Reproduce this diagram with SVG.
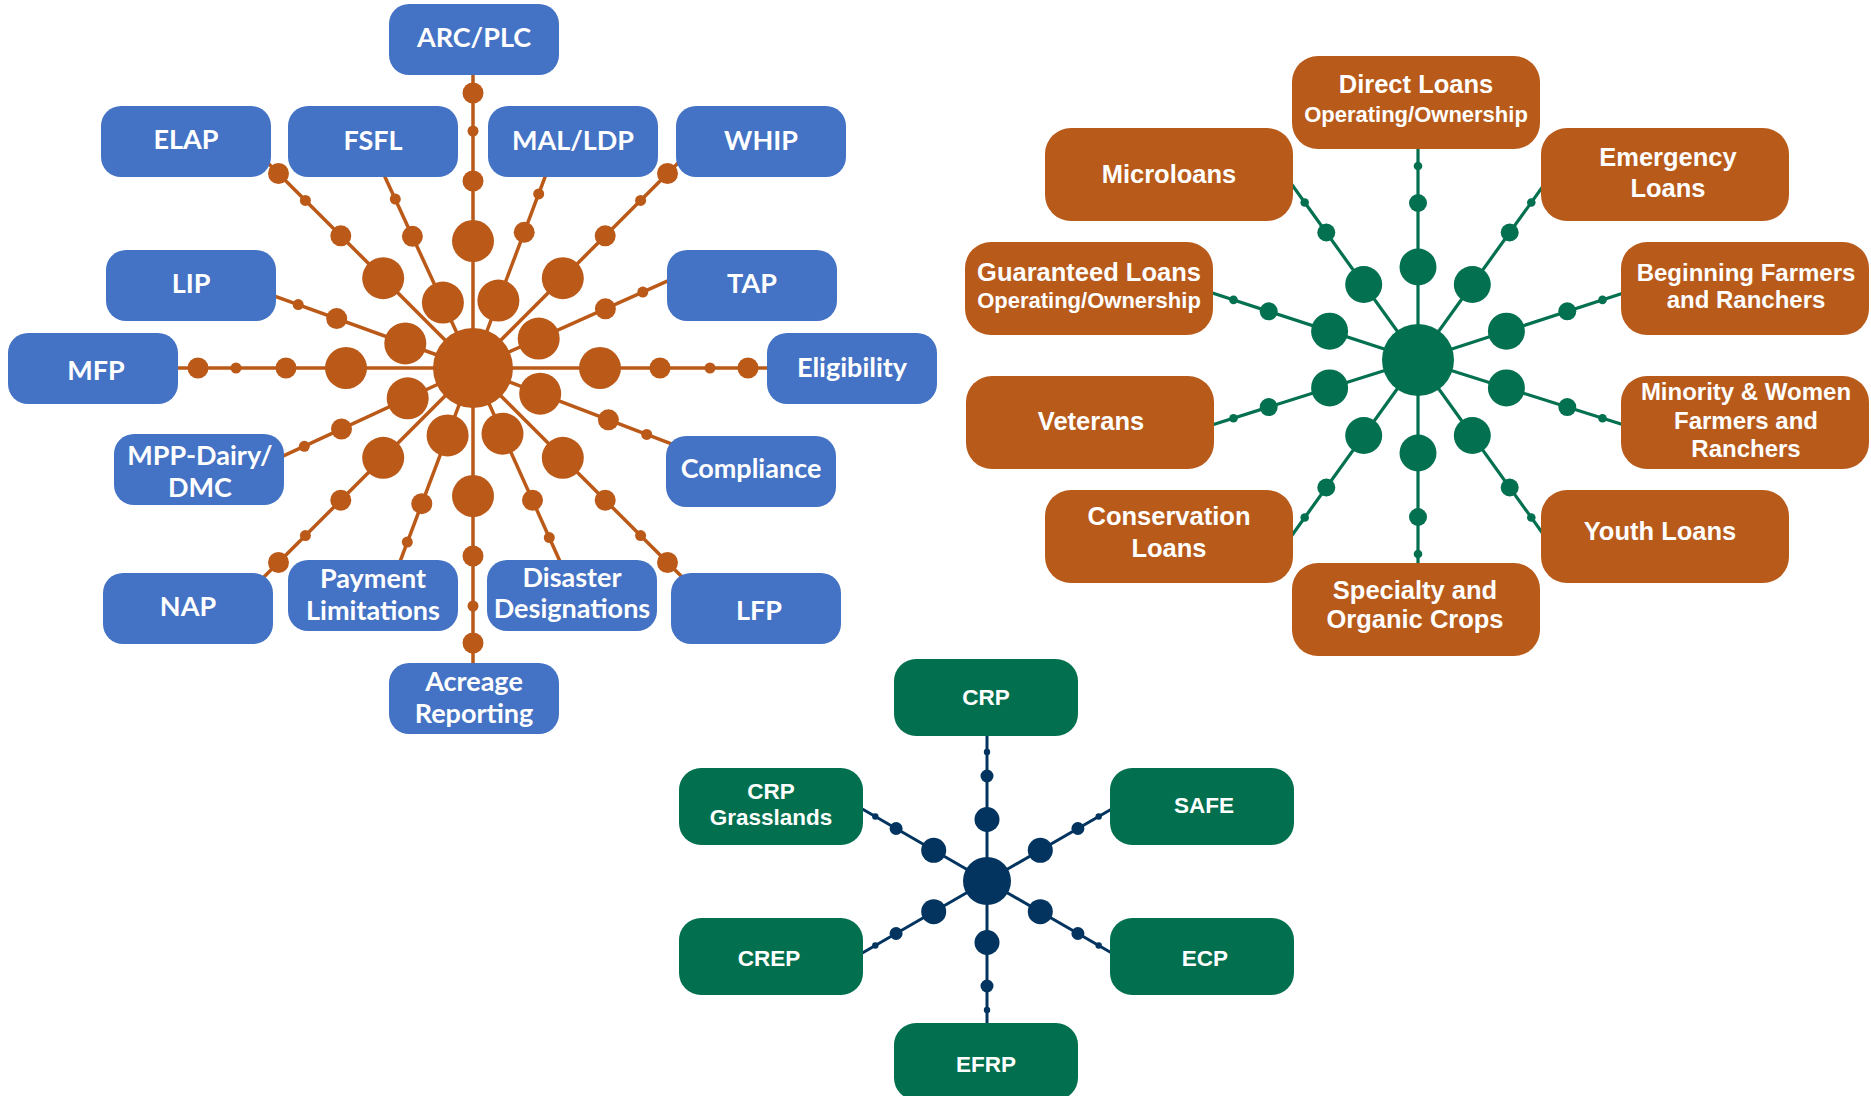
<svg xmlns="http://www.w3.org/2000/svg" width="1871" height="1096" viewBox="0 0 1871 1096">
<style>
  .bx{fill:#4472C4}
  .ob{fill:#B85A1A}
  .gb{fill:#02704F}
  .lt{font-family:Lato,"Open Sans","DejaVu Sans",sans-serif;font-weight:700;font-size:27px;fill:#fff;text-anchor:middle}
  .rt{font-family:"Liberation Sans",Arial,sans-serif;font-weight:700;font-size:25.5px;fill:#fff;text-anchor:middle}
  .rn{font-size:24px}
  .rs{font-size:22px}
  .bt{font-family:"Liberation Sans",Arial,sans-serif;font-weight:700;font-size:22.5px;fill:#fff;text-anchor:middle}
  .ol{stroke:#BA5918;stroke-width:3.5;fill:none}
  .od{fill:#BA5918}
  .gl{stroke:#037050;stroke-width:3.2;fill:none}
  .gd{fill:#037050}
  .nl{stroke:#02345F;stroke-width:3;fill:none}
  .nd{fill:#02345F}
</style>
<rect width="1871" height="1096" fill="#fff"/>

<!-- ===== Left diagram connectors ===== -->
<g id="connectors-left">
  <g class="ol">
    <line x1="473" y1="368" x2="473" y2="70"/>
    <line x1="473" y1="368" x2="473" y2="668"/>
    <line x1="473" y1="368" x2="175" y2="368"/>
    <line x1="473" y1="368" x2="772" y2="368"/>
    <line x1="473" y1="368" x2="260.9" y2="155.9"/>
    <line x1="473" y1="368" x2="685.1" y2="155.9"/>
    <line x1="473" y1="368" x2="260.9" y2="580.1"/>
    <line x1="473" y1="368" x2="685.1" y2="580.1"/>
    <line x1="473" y1="368" x2="378.9" y2="163.7"/>
    <line x1="473" y1="368" x2="552.4" y2="157.4"/>
    <line x1="473" y1="368" x2="678.4" y2="276.2"/>
    <line x1="473" y1="368" x2="683.2" y2="448.3"/>
    <line x1="473" y1="368" x2="565.3" y2="573.2"/>
    <line x1="473" y1="368" x2="393.6" y2="578.6"/>
    <line x1="473" y1="368" x2="268.9" y2="462.7"/>
    <line x1="473" y1="368" x2="261.5" y2="291.3"/>
  </g>
  <g class="od">
    <circle cx="473" cy="241" r="21"/><circle cx="473" cy="181" r="10.5"/><circle cx="473" cy="131" r="5.5"/><circle cx="473" cy="93" r="10.5"/>
    <circle cx="473" cy="496" r="21"/><circle cx="473" cy="556" r="10.5"/><circle cx="473" cy="606" r="5.5"/><circle cx="473" cy="643" r="10.5"/>
    <circle cx="346" cy="368" r="21"/><circle cx="286" cy="368" r="10.5"/><circle cx="236" cy="368" r="5.5"/><circle cx="198" cy="368" r="10.5"/>
    <circle cx="600" cy="368" r="21"/><circle cx="660" cy="368" r="10.5"/><circle cx="710" cy="368" r="5.5"/><circle cx="748" cy="368" r="10.5"/>
    <circle cx="383.2" cy="278.2" r="21"/><circle cx="340.8" cy="235.8" r="10.5"/><circle cx="305.4" cy="200.4" r="5.5"/><circle cx="278.5" cy="173.5" r="10.5"/>
    <circle cx="562.8" cy="278.2" r="21"/><circle cx="605.2" cy="235.8" r="10.5"/><circle cx="640.6" cy="200.4" r="5.5"/><circle cx="667.5" cy="173.5" r="10.5"/>
    <circle cx="383.2" cy="457.8" r="21"/><circle cx="340.8" cy="500.2" r="10.5"/><circle cx="305.4" cy="535.6" r="5.5"/><circle cx="278.5" cy="562.5" r="10.5"/>
    <circle cx="562.8" cy="457.8" r="21"/><circle cx="605.2" cy="500.2" r="10.5"/><circle cx="640.6" cy="535.6" r="5.5"/><circle cx="667.5" cy="562.5" r="10.5"/>
    <circle cx="442.9" cy="302.6" r="21"/><circle cx="412.4" cy="236.3" r="10.5"/><circle cx="395.3" cy="199.1" r="5.5"/>
    <circle cx="498.4" cy="300.6" r="21"/><circle cx="524.2" cy="232.3" r="10.5"/><circle cx="538.7" cy="193.9" r="5.5"/>
    <circle cx="538.7" cy="338.6" r="21"/><circle cx="605.4" cy="308.8" r="10.5"/><circle cx="642.8" cy="292.1" r="5.5"/>
    <circle cx="540.2" cy="393.7" r="21"/><circle cx="608.4" cy="419.8" r="10.5"/><circle cx="646.7" cy="434.4" r="5.5"/>
    <circle cx="502.5" cy="433.7" r="21"/><circle cx="532.5" cy="500.2" r="10.5"/><circle cx="549.3" cy="537.6" r="5.5"/>
    <circle cx="447.6" cy="435.4" r="21"/><circle cx="421.8" cy="503.7" r="10.5"/><circle cx="407.3" cy="542.1" r="5.5"/>
    <circle cx="407.7" cy="398.3" r="21"/><circle cx="341.5" cy="429" r="10.5"/><circle cx="304.3" cy="446.3" r="5.5"/>
    <circle cx="405.3" cy="343.4" r="21"/><circle cx="336.7" cy="318.6" r="10.5"/><circle cx="298.2" cy="304.6" r="5.5"/>
  </g>
</g>
<g id="hub-left"><circle cx="473" cy="368" r="40" class="od"/></g>

<!-- ===== Left diagram nodes ===== -->
<g id="node-arcplc"><rect class="bx" x="389" y="4" width="170" height="71" rx="20"/><text class="lt" x="474" y="47">ARC/PLC</text></g>
<g id="node-elap"><rect class="bx" x="101" y="106" width="170" height="71" rx="20"/><text class="lt" x="186" y="149">ELAP</text></g>
<g id="node-fsfl"><rect class="bx" x="288" y="106" width="170" height="71" rx="20"/><text class="lt" x="373" y="150">FSFL</text></g>
<g id="node-malldp"><rect class="bx" x="488" y="106" width="170" height="71" rx="20"/><text class="lt" x="573" y="150">MAL/LDP</text></g>
<g id="node-whip"><rect class="bx" x="676" y="106" width="170" height="71" rx="20"/><text class="lt" x="761" y="150">WHIP</text></g>
<g id="node-lip"><rect class="bx" x="106" y="250" width="170" height="71" rx="20"/><text class="lt" x="191" y="293">LIP</text></g>
<g id="node-tap"><rect class="bx" x="667" y="250" width="170" height="71" rx="20"/><text class="lt" x="752" y="293">TAP</text></g>
<g id="node-mfp"><rect class="bx" x="8" y="333" width="170" height="71" rx="20"/><text class="lt" x="96" y="380">MFP</text></g>
<g id="node-eligibility"><rect class="bx" x="767" y="333" width="170" height="71" rx="20"/><text class="lt" x="852" y="377">Eligibility</text></g>
<g id="node-mpp"><rect class="bx" x="114" y="434" width="170" height="71" rx="20"/><text class="lt" x="200" y="465">MPP-Dairy/</text><text class="lt" x="200" y="497">DMC</text></g>
<g id="node-compliance"><rect class="bx" x="666" y="436" width="170" height="71" rx="20"/><text class="lt" x="751" y="478">Compliance</text></g>
<g id="node-nap"><rect class="bx" x="103" y="573" width="170" height="71" rx="20"/><text class="lt" x="188" y="616">NAP</text></g>
<g id="node-payment"><rect class="bx" x="288" y="560" width="170" height="71" rx="20"/><text class="lt" x="373" y="588">Payment</text><text class="lt" x="373" y="619.5">Limitations</text></g>
<g id="node-disaster"><rect class="bx" x="487" y="560" width="170" height="71" rx="20"/><text class="lt" x="572" y="587">Disaster</text><text class="lt" x="572" y="618">Designations</text></g>
<g id="node-lfp"><rect class="bx" x="671" y="573" width="170" height="71" rx="20"/><text class="lt" x="759" y="620">LFP</text></g>
<g id="node-acreage"><rect class="bx" x="389" y="663" width="170" height="71" rx="20"/><text class="lt" x="474" y="691">Acreage</text><text class="lt" x="474" y="723">Reporting</text></g>

<!-- ===== Right diagram connectors ===== -->
<g id="connectors-right">
  <g class="gl">
    <line x1="1418" y1="360" x2="1418" y2="140"/>
    <line x1="1418" y1="360" x2="1418" y2="575"/>
    <line x1="1418" y1="360" x2="1286.6" y2="177.3"/>
    <line x1="1418" y1="360" x2="1549.4" y2="177.3"/>
    <line x1="1418" y1="360" x2="1286.6" y2="542.7"/>
    <line x1="1418" y1="360" x2="1549.4" y2="542.7"/>
    <line x1="1418" y1="360" x2="1204" y2="290.3"/>
    <line x1="1418" y1="360" x2="1632" y2="290.3"/>
    <line x1="1418" y1="360" x2="1204" y2="427.5"/>
    <line x1="1418" y1="360" x2="1632" y2="427.5"/>
  </g>
  <g class="gd">
    <circle cx="1418" cy="267" r="18.5"/><circle cx="1418" cy="203" r="9"/><circle cx="1418" cy="166" r="4.3"/>
    <circle cx="1418" cy="453" r="18.5"/><circle cx="1418" cy="517" r="9"/><circle cx="1418" cy="554" r="4.3"/>
    <circle cx="1363.7" cy="284.5" r="18.5"/><circle cx="1326.3" cy="232.5" r="9"/><circle cx="1304.7" cy="202.5" r="4.3"/>
    <circle cx="1472.3" cy="284.5" r="18.5"/><circle cx="1509.7" cy="232.5" r="9"/><circle cx="1531.3" cy="202.5" r="4.3"/>
    <circle cx="1363.7" cy="435.5" r="18.5"/><circle cx="1326.3" cy="487.5" r="9"/><circle cx="1304.7" cy="517.5" r="4.3"/>
    <circle cx="1472.3" cy="435.5" r="18.5"/><circle cx="1509.7" cy="487.5" r="9"/><circle cx="1531.3" cy="517.5" r="4.3"/>
    <circle cx="1329.6" cy="331.2" r="18.5"/><circle cx="1268.7" cy="311.3" r="9"/><circle cx="1233.5" cy="299.9" r="4.3"/>
    <circle cx="1506.4" cy="331.2" r="18.5"/><circle cx="1567.3" cy="311.3" r="9"/><circle cx="1602.5" cy="299.9" r="4.3"/>
    <circle cx="1329.6" cy="387.9" r="18.5"/><circle cx="1268.7" cy="407.1" r="9"/><circle cx="1233.5" cy="418.2" r="4.3"/>
    <circle cx="1506.4" cy="387.9" r="18.5"/><circle cx="1567.3" cy="407.1" r="9"/><circle cx="1602.5" cy="418.2" r="4.3"/>
  </g>
</g>
<g id="hub-right"><circle cx="1418" cy="360" r="36" class="gd"/></g>

<!-- ===== Right diagram nodes ===== -->
<g id="node-direct"><rect class="ob" x="1292" y="56" width="248" height="93" rx="26"/><text class="rt" x="1416" y="93">Direct Loans</text><text class="rt rs" x="1416" y="121.5">Operating/Ownership</text></g>
<g id="node-microloans"><rect class="ob" x="1045" y="128" width="248" height="93" rx="26"/><text class="rt" x="1169" y="183">Microloans</text></g>
<g id="node-emergency"><rect class="ob" x="1541" y="128" width="248" height="93" rx="26"/><text class="rt" x="1668" y="166">Emergency</text><text class="rt" x="1668" y="197">Loans</text></g>
<g id="node-guaranteed"><rect class="ob" x="965" y="242" width="248" height="93" rx="26"/><text class="rt" x="1089" y="281">Guaranteed Loans</text><text class="rt rs" x="1089" y="308">Operating/Ownership</text></g>
<g id="node-beginning"><rect class="ob" x="1621" y="242" width="248" height="93" rx="26"/><text class="rt rn" x="1746" y="281">Beginning Farmers</text><text class="rt rn" x="1746" y="308">and Ranchers</text></g>
<g id="node-veterans"><rect class="ob" x="966" y="376" width="248" height="93" rx="26"/><text class="rt" x="1091" y="430">Veterans</text></g>
<g id="node-minority"><rect class="ob" x="1621" y="376" width="248" height="93" rx="26"/><text class="rt rn" x="1746" y="399.5">Minority &amp; Women</text><text class="rt rn" x="1746" y="428.5">Farmers and</text><text class="rt rn" x="1746" y="457">Ranchers</text></g>
<g id="node-conservation"><rect class="ob" x="1045" y="490" width="248" height="93" rx="26"/><text class="rt" x="1169" y="525">Conservation</text><text class="rt" x="1169" y="557">Loans</text></g>
<g id="node-youth"><rect class="ob" x="1541" y="490" width="248" height="93" rx="26"/><text class="rt" x="1660" y="540">Youth Loans</text></g>
<g id="node-specialty"><rect class="ob" x="1292" y="563" width="248" height="93" rx="26"/><text class="rt" x="1415" y="598.5">Specialty and</text><text class="rt" x="1415" y="627.5">Organic Crops</text></g>

<!-- ===== Bottom diagram connectors ===== -->
<g id="connectors-bottom">
  <g class="nl">
    <line x1="987" y1="881" x2="987" y2="730"/>
    <line x1="987" y1="881" x2="987" y2="1030"/>
    <line x1="987" y1="881" x2="857.1" y2="806"/>
    <line x1="987" y1="881" x2="1116.9" y2="806"/>
    <line x1="987" y1="881" x2="857.1" y2="956"/>
    <line x1="987" y1="881" x2="1116.9" y2="956"/>
  </g>
  <g class="nd">
    <circle cx="987" cy="819.5" r="12.5"/><circle cx="987" cy="776" r="6.5"/><circle cx="987" cy="752" r="3.2"/>
    <circle cx="987" cy="942.5" r="12.5"/><circle cx="987" cy="986" r="6.5"/><circle cx="987" cy="1010" r="3.2"/>
    <circle cx="933.7" cy="850.3" r="12.5"/><circle cx="896.1" cy="828.5" r="6.5"/><circle cx="875.3" cy="816.5" r="3.2"/>
    <circle cx="1040.3" cy="850.3" r="12.5"/><circle cx="1077.9" cy="828.5" r="6.5"/><circle cx="1098.7" cy="816.5" r="3.2"/>
    <circle cx="933.7" cy="911.7" r="12.5"/><circle cx="896.1" cy="933.5" r="6.5"/><circle cx="875.3" cy="945.5" r="3.2"/>
    <circle cx="1040.3" cy="911.7" r="12.5"/><circle cx="1077.9" cy="933.5" r="6.5"/><circle cx="1098.7" cy="945.5" r="3.2"/>
  </g>
</g>
<g id="hub-bottom"><circle cx="987" cy="881" r="24" class="nd"/></g>

<!-- ===== Bottom diagram nodes ===== -->
<g id="node-crp"><rect class="gb" x="894" y="659" width="184" height="77" rx="22"/><text class="bt" x="986" y="705">CRP</text></g>
<g id="node-crpgrass"><rect class="gb" x="679" y="768" width="184" height="77" rx="22"/><text class="bt" x="771" y="798.5">CRP</text><text class="bt" x="771" y="825">Grasslands</text></g>
<g id="node-safe"><rect class="gb" x="1110" y="768" width="184" height="77" rx="22"/><text class="bt" x="1204" y="813">SAFE</text></g>
<g id="node-crep"><rect class="gb" x="679" y="918" width="184" height="77" rx="22"/><text class="bt" x="769" y="966">CREP</text></g>
<g id="node-ecp"><rect class="gb" x="1110" y="918" width="184" height="77" rx="22"/><text class="bt" x="1205" y="966">ECP</text></g>
<g id="node-efrp"><rect class="gb" x="894" y="1023" width="184" height="77" rx="22"/><text class="bt" x="986" y="1071.5">EFRP</text></g>
</svg>
